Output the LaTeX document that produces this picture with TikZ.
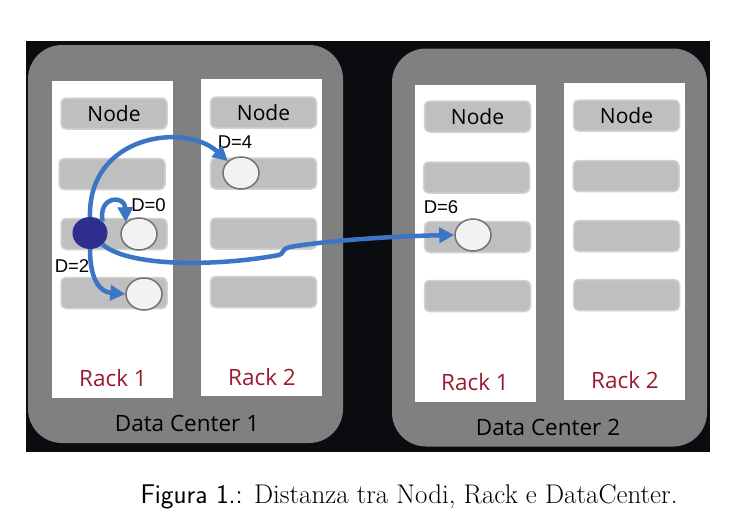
\documentclass[tikz,border=0pt]{standalone}
\usepackage{fontspec}
\newfontfamily\boxfont{Open Sans}
\newfontfamily\labelfont{Liberation Sans}
\usepackage{tikz}
\usetikzlibrary{arrows.meta}
\usetikzlibrary{shapes.geometric}
\usetikzlibrary{backgrounds}

\definecolor{dcgray}{HTML}{808080}
\definecolor{boxgray}{HTML}{BFBFBF}
\definecolor{boxedge}{HTML}{D2D2D2}
\definecolor{rackred}{HTML}{9A1B30}
\definecolor{linkblue}{HTML}{3A76C4}
\definecolor{srcblue}{HTML}{2E2E8F}
\definecolor{bgdark}{HTML}{0B0C10}

\begin{document}
\begin{tikzpicture}[x=1pt,y=-1pt]
	\useasboundingbox (0,0) rectangle (734,530);
	\fill[white] (0,0) rectangle (734,530);
	\fill[bgdark] (26,41) rectangle (710,452);

	% data centers
	\begin{scope}[every node/.style={rounded corners=34pt,fill=dcgray,inner sep=0pt,
	              minimum width=315pt,minimum height=398pt}]
		\node (dc1) at (185.5,244) {};
		\node (dc2) at (549.5,247.5) {};
	\end{scope}

	% racks
	\begin{scope}[every node/.style={fill=white,inner sep=0pt,
	              minimum width=121pt,minimum height=317pt}]
		\node (r11) at (112.5,239.5) {};
		\node (r12) at (261.5,237.5) {};
		\node (r21) at (475.5,243.5) {};
		\node (r22) at (624.5,241.5) {};
	\end{scope}

	% node slots
	\begin{scope}[every node/.style={rounded corners=5pt,fill=boxgray,draw=boxedge,
	              line width=1.5pt,inner sep=0pt,minimum width=106pt,minimum height=31pt,
	              font=\boxfont\fontsize{21}{24}\selectfont}]
		\node (b111) at (114,113.5) {Node};
		\node (b112) at (112,174) {};
		\node (b113) at (114,234) {};
		\node (b114) at (114,293) {};
		\node (b121) at (263.5,112.5) {Node};
		\node (b122) at (263.5,173.5) {};
		\node (b123) at (263.5,233.5) {};
		\node (b124) at (263.5,292) {};
		\node (b211) at (477.5,116.5) {Node};
		\node (b212) at (476.5,177.5) {};
		\node (b213) at (477.5,237) {};
		\node (b214) at (477.5,296) {};
		\node (b221) at (626.5,115.5) {Node};
		\node (b222) at (626,176) {};
		\node (b223) at (626.5,236) {};
		\node (b224) at (626.5,295) {};
	\end{scope}

	% rack and data center names
	\begin{scope}[every node/.style={font=\boxfont\fontsize{22.5}{26}\selectfont}]
		\node[rackred] (l11) at (113,378) {Rack 1};
		\node[rackred] (l12) at (262,377) {Rack 2};
		\node[rackred] (l21) at (475,382) {Rack 1};
		\node[rackred] (l22) at (625,380) {Rack 2};
		\node (ldc1) at (187,423) {Data Center 1};
		\node (ldc2) at (548,427) {Data Center 2};
	\end{scope}

	% source and target nodes
	\node[ellipse,fill=srcblue,minimum width=35pt,minimum height=32pt,inner sep=0pt] (src) at (90,233) {};
	\begin{scope}[every node/.style={ellipse,fill=black!5,draw=black!55,line width=1.5pt,
	              minimum width=36pt,minimum height=32pt,inner sep=0pt}]
		\node (dzero) at (139,234) {};
		\node (dtwo) at (144,294) {};
		\node (dfour) at (241,173) {};
		\node (dsix) at (473,235) {};
	\end{scope}

	% distances
	\begin{scope}[every node/.style={font=\labelfont\fontsize{18.5}{21}\selectfont,inner sep=0pt}]
		\node (tzero) at (148.5,205) {D=0};
		\node (ttwo) at (72,266) {D=2};
		\node (tfour) at (235,142) {D=4};
		\node (tsix) at (441,207) {D=6};
	\end{scope}

	\begin{scope}[every path/.style={draw=linkblue,line width=4.5pt,
	              -{Triangle[length=15pt,width=15pt]}}]
		\path (src.north) .. controls (88,135) and (185,122) .. (dfour.north west);
		\path (src.north east) .. controls (98,195) and (125,195) .. (dzero.north west);
		\path (src.south) .. controls (90,280) and (100,292) .. (dtwo.west);
		\path (src.south east) .. controls (130,268) and (220,266) .. (279,255)
			.. controls (284,254) and (281,249) .. (290,247)
			.. controls (330,240) and (400,236) .. (dsix.west);
	\end{scope}

	\node (caption) at (409,497) {\fontsize{27}{30}\selectfont\sffamily Figura 1.: \rmfamily Distanza tra Nodi, Rack e DataCenter.};
\end{tikzpicture}
\end{document}
